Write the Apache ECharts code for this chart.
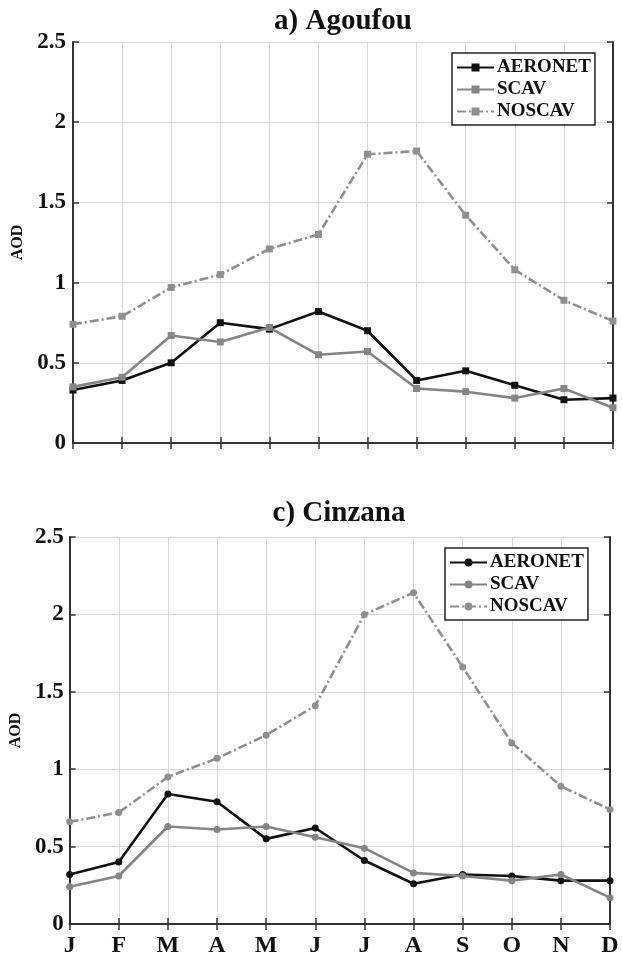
<!DOCTYPE html>
<html>
<head>
<meta charset="utf-8">
<script src="https://cdn.jsdelivr.net/npm/echarts@6/dist/echarts.min.js"></script>
<style>
  body { margin: 0; background: #fff; }
  .panel { width: 622px; height: 480px; }
</style>
</head>
<body>
<div class="panel" id="chartA"></div>
<div class="panel" id="chartC"></div>
<script>
  var months = ['J', 'F', 'M', 'A', 'M', 'J', 'J', 'A', 'S', 'O', 'N', 'D'];
  var seriesNames = ['AERONET', 'SCAV', 'NOSCAV'];

  // a) Agoufou
  var agoufouAeronet = [0.33, 0.39, 0.50, 0.75, 0.71, 0.82, 0.70, 0.39, 0.45, 0.36, 0.27, 0.28];
  var agoufouScav    = [0.35, 0.41, 0.67, 0.63, 0.72, 0.55, 0.57, 0.34, 0.32, 0.28, 0.34, 0.22];
  var agoufouNoscav  = [0.74, 0.79, 0.97, 1.05, 1.21, 1.30, 1.80, 1.82, 1.42, 1.08, 0.89, 0.76];

  // c) Cinzana
  var cinzanaAeronet = [0.32, 0.40, 0.84, 0.79, 0.55, 0.62, 0.41, 0.26, 0.32, 0.31, 0.28, 0.28];
  var cinzanaScav    = [0.24, 0.31, 0.63, 0.61, 0.63, 0.56, 0.49, 0.33, 0.31, 0.28, 0.32, 0.17];
  var cinzanaNoscav  = [0.66, 0.72, 0.95, 1.07, 1.22, 1.41, 2.00, 2.14, 1.66, 1.17, 0.89, 0.74];

  var serif = '"Liberation Serif", "Times New Roman", serif';
  var axisColor = '#333';

  function buildOption(cfg) {
    var mkSeries = function (name, data, color, dashed) {
      return {
        name: name,
        type: 'line',
        data: data,
        symbol: cfg.symbol,
        symbolSize: 7,
        itemStyle: { color: color },
        lineStyle: { color: color, width: 2.6, type: dashed ? [9, 3, 2, 3] : 'solid' },
        z: dashed ? 2 : 3
      };
    };
    return {
      animation: false,
      graphic: [{
        type: 'text',
        x: cfg.titleX,
        y: cfg.titleY,
        style: {
          text: cfg.title,
          font: 'bold 29px ' + serif,
          fill: '#111',
          textAlign: 'center',
          textVerticalAlign: 'middle'
        }
      }],
      legend: {
        data: seriesNames,
        orient: 'vertical',
        left: cfg.legendLeft,
        top: cfg.legendTop,
        padding: [5, 4, 4, 4],
        itemGap: 3,
        itemWidth: 37,
        itemHeight: 10,
        backgroundColor: '#fff',
        borderColor: '#222',
        borderWidth: 1.5,
        borderRadius: 0,
        textStyle: { fontFamily: serif, fontWeight: 'bold', fontSize: 19, color: '#111', padding: [0, 0, 0, -2] }
      },
      grid: cfg.grid,
      xAxis: [{
        type: 'category',
        data: months,
        boundaryGap: false,
        axisLine: { lineStyle: { color: axisColor, width: 2 } },
        axisTick: { inside: true, length: 6, lineStyle: { color: axisColor, width: 1.5 } },
        axisLabel: {
          show: cfg.showMonths,
          interval: 0,
          margin: 10,
          fontFamily: serif,
          fontWeight: 'bold',
          fontSize: 24,
          color: '#111'
        },
        splitLine: { show: true, lineStyle: { color: '#d8d8d8', width: 1 } }
      }, {
        type: 'category',
        data: months,
        position: 'top',
        boundaryGap: false,
        axisLine: { lineStyle: { color: axisColor, width: 2 } },
        axisTick: { inside: true, length: 6, lineStyle: { color: axisColor, width: 1.5 } },
        axisLabel: { show: false },
        splitLine: { show: false }
      }],
      yAxis: [{
        type: 'value',
        min: 0,
        max: 2.5,
        interval: 0.5,
        name: 'AOD',
        nameLocation: 'middle',
        nameGap: cfg.nameGap,
        nameTextStyle: { fontFamily: serif, fontWeight: 'bold', fontSize: 16, color: '#111' },
        axisLine: { show: true, lineStyle: { color: axisColor, width: 2 } },
        axisTick: { show: true, inside: true, length: 6, lineStyle: { color: axisColor, width: 1.5 } },
        axisLabel: { margin: cfg.labelMargin, fontFamily: serif, fontWeight: 'bold', fontSize: 23, color: '#111' },
        splitLine: { show: true, lineStyle: { color: '#d8d8d8', width: 1 } }
      }, {
        type: 'value',
        min: 0,
        max: 2.5,
        interval: 0.5,
        position: 'right',
        axisLine: { show: true, lineStyle: { color: axisColor, width: 2 } },
        axisTick: { show: true, inside: true, length: 6, lineStyle: { color: axisColor, width: 1.5 } },
        axisLabel: { show: false },
        splitLine: { show: false }
      }],
      series: [
        mkSeries('AERONET', cfg.aeronet, '#111111', false),
        mkSeries('SCAV', cfg.scav, '#858585', false),
        mkSeries('NOSCAV', cfg.noscav, '#8f8f8f', true)
      ]
    };
  }

  var chartA = echarts.init(document.getElementById('chartA'));
  chartA.setOption(buildOption({
    title: 'a) Agoufou', titleX: 343, titleY: 22,
    symbol: 'rect',
    grid: { left: 73, right: 9, top: 42, height: 401 },
    legendLeft: 452, legendTop: 53,
    showMonths: false,
    nameGap: 44,
    labelMargin: 7,
    aeronet: agoufouAeronet, scav: agoufouScav, noscav: agoufouNoscav
  }));

  var chartC = echarts.init(document.getElementById('chartC'));
  chartC.setOption(buildOption({
    title: 'c) Cinzana', titleX: 339, titleY: 34,
    symbol: 'circle',
    grid: { left: 68, right: 12, top: 57, height: 387 },
    legendLeft: 445, legendTop: 68,
    showMonths: true,
    nameGap: 40,
    labelMargin: 6,
    aeronet: cinzanaAeronet, scav: cinzanaScav, noscav: cinzanaNoscav
  }));
</script>
</body>
</html>
